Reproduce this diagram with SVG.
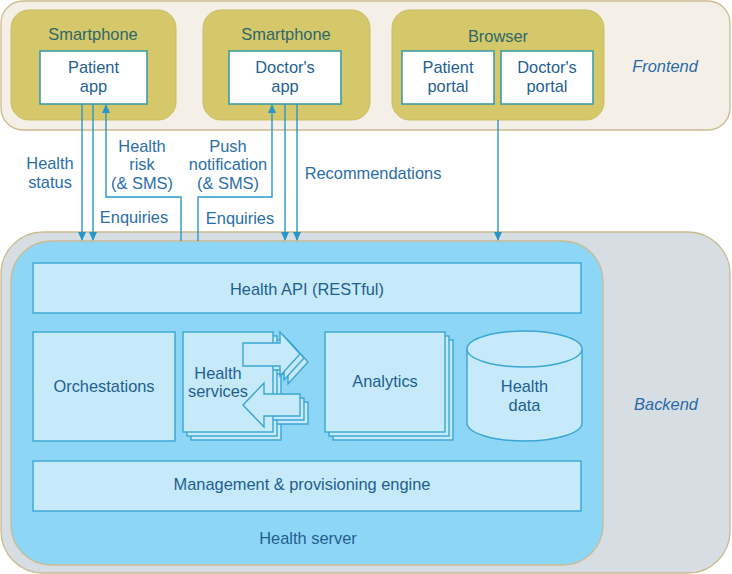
<svg xmlns="http://www.w3.org/2000/svg" width="732" height="574" viewBox="0 0 732 574">
<style>
text{font-family:"Liberation Sans",Arial,sans-serif;font-size:16.4px;text-anchor:middle}
.zone{stroke:#cbbb8f;stroke-width:1.3}
.olive{fill:#d4c86b;stroke:#cbbd62;stroke-width:1}
.white{fill:#ffffff;stroke:#3e9ea6;stroke-width:1.6}
.lb{fill:#2d6669}
.tb{fill:#1f5f91}
.cl{fill:#2a6ea8}
.it{fill:#2a6aa8;font-style:italic}
.in{fill:#c6eaf9;stroke:#3aa6d4;stroke-width:1.4}
.conn{fill:none;stroke:#2a96c8;stroke-width:1.4}
</style>
<defs>
<marker id="ah" markerWidth="9" markerHeight="8" refX="8" refY="4" orient="auto" markerUnits="userSpaceOnUse">
<path d="M0,0 L9,4 L0,8 z" fill="#2a96c8"/>
</marker>
<polygon id="arR" points="243,343 280,343 280,332 300,354 280,376 280,366 243,366"/>
<polygon id="arL" points="300,394 264,394 264,383 243,405 264,427 264,416 300,416"/>
</defs>

<g id="frontend">
<rect class="zone" x="1" y="1" width="729" height="129" rx="22" fill="#f4f0e7"/>
<text class="it" x="665" y="72">Frontend</text>
</g>

<g id="smartphone1">
<rect class="olive" x="11" y="10" width="165" height="110" rx="18"/>
<text class="lb" x="93" y="40">Smartphone</text>
</g>
<g id="patient-app">
<rect class="white" x="40" y="51" width="107" height="53"/>
<text class="tb" x="93.5" y="73">Patient</text>
<text class="tb" x="93.5" y="92">app</text>
</g>

<g id="smartphone2">
<rect class="olive" x="203" y="10" width="167" height="110" rx="18"/>
<text class="lb" x="286" y="40">Smartphone</text>
</g>
<g id="doctors-app">
<rect class="white" x="229" y="51" width="112" height="53"/>
<text class="tb" x="285" y="73">Doctor's</text>
<text class="tb" x="285" y="92">app</text>
</g>

<g id="browser">
<rect class="olive" x="392" y="10" width="212" height="110" rx="18"/>
<text class="lb" x="498" y="42">Browser</text>
</g>
<g id="patient-portal">
<rect class="white" x="402" y="51" width="92" height="53"/>
<text class="tb" x="448" y="73">Patient</text>
<text class="tb" x="448" y="92">portal</text>
</g>
<g id="doctors-portal">
<rect class="white" x="501" y="51" width="92" height="53"/>
<text class="tb" x="547" y="73">Doctor's</text>
<text class="tb" x="547" y="92">portal</text>
</g>

<g id="backend">
<rect class="zone" x="1" y="232" width="729" height="341" rx="42" fill="#d6dee4"/>
<text class="it" x="666" y="410">Backend</text>
</g>

<g id="health-server">
<rect class="zone" x="11" y="241" width="592" height="324" rx="40" fill="#8ed6f5"/>
<text class="tb" x="308" y="544">Health server</text>
</g>

<g id="health-api">
<rect class="in" x="33" y="263" width="548" height="50"/>
<text class="tb" x="307" y="295">Health API (RESTful)</text>
</g>

<g id="orchestations">
<rect class="in" x="33" y="332" width="142" height="109"/>
<text class="tb" x="104" y="392">Orchestations</text>
</g>

<g id="health-services">
<rect class="in" x="191" y="340" width="90" height="100"/>
<use href="#arR" class="in" transform="translate(8,8)"/>
<use href="#arL" class="in" transform="translate(8,8)"/>
<rect class="in" x="187" y="336" width="90" height="100"/>
<use href="#arR" class="in" transform="translate(4,4)"/>
<use href="#arL" class="in" transform="translate(4,4)"/>
<rect class="in" x="183" y="332" width="90" height="100"/>
<use href="#arR" class="in"/>
<use href="#arL" class="in"/>
<text class="tb" x="218" y="379">Health</text>
<text class="tb" x="218" y="397">services</text>
</g>

<g id="analytics">
<rect class="in" x="333" y="340" width="120" height="100"/>
<rect class="in" x="329" y="336" width="120" height="100"/>
<rect class="in" x="325" y="332" width="120" height="100"/>
<text class="tb" x="385" y="387">Analytics</text>
</g>

<g id="health-data">
<path class="in" d="M467,349 A57.5,18 0 0 1 582,349 V423 A57.5,18 0 0 1 467,423 Z"/>
<path class="in" fill="none" d="M467,349 A57.5,18 0 0 0 582,349"/>
<text class="tb" x="524.5" y="392">Health</text>
<text class="tb" x="524.5" y="411">data</text>
</g>

<g id="management">
<rect class="in" x="33" y="461" width="548" height="50"/>
<text class="tb" x="302" y="490">Management &amp; provisioning engine</text>
</g>

<g id="connectors">
<path class="conn" d="M82,104 V240" marker-end="url(#ah)"/>
<path class="conn" d="M93,104 V240" marker-end="url(#ah)"/>
<path class="conn" d="M181,241 V197 H106 V105" marker-end="url(#ah)"/>
<path class="conn" d="M198,241 V197 H272 V105" marker-end="url(#ah)"/>
<path class="conn" d="M285,104 V240" marker-end="url(#ah)"/>
<path class="conn" d="M297,104 V240" marker-end="url(#ah)"/>
<path class="conn" d="M498,120 V240" marker-end="url(#ah)"/>
<text class="cl" x="50" y="169">Health</text>
<text class="cl" x="50" y="188">status</text>
<text class="cl" x="142" y="152">Health</text>
<text class="cl" x="142" y="170">risk</text>
<text class="cl" x="142" y="189">(&amp; SMS)</text>
<text class="cl" x="228" y="152">Push</text>
<text class="cl" x="228" y="170">notification</text>
<text class="cl" x="228" y="189">(&amp; SMS)</text>
<text class="cl" x="134" y="223">Enquiries</text>
<text class="cl" x="240" y="224">Enquiries</text>
<text class="cl" x="373" y="179">Recommendations</text>
</g>
</svg>
